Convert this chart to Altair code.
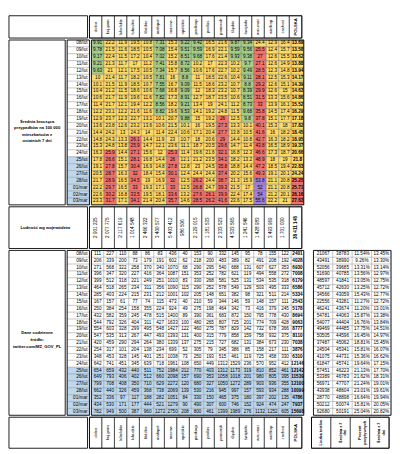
import altair as alt
import pandas as pd

regions = ["dolno", "kuj-pom", "lubelskie", "lubuskie", "łódzkie", "małopol", "mazow",
           "opolskie", "podkarp", "podlas", "pomorsk", "śląskie", "świętokr", "war-maz",
           "wielkop", "zachod", "POLSKA"]
dates = ["08/lut", "09/lut", "10/lut", "11/lut", "12/lut", "13/lut", "14/lut", "15/lut",
         "16/lut", "17/lut", "18/lut", "19/lut", "20/lut", "21/lut", "22/lut", "23/lut",
         "24/lut", "25/lut", "26/lut", "27/lut", "28/lut", "01/mar", "02/mar", "03/mar"]
highlighted_dates = ["25/lut", "26/lut", "27/lut", "28/lut", "01/mar", "02/mar", "03/mar"]

# 7-day rolling average of cases per 100 000 inhabitants (one row per date, columns = regions)
avg7_rows = [
    [9.91, 22.2, 11.9, 19.5, 10.8, 7.31, 15.3, 9.22, 9.42, 16.5, 21.6, 9.87, 9.34, 24.4, 12.9, 16.4, 13.69],
    [9.78, 21.5, 11.6, 18.5, 10.5, 7.08, 15.4, 9.51, 9.59, 16.9, 22.1, 9.59, 9.56, 25.5, 12.4, 15.7, 13.58],
    [9.17, 22.4, 11.5, 17.2, 10.4, 7.02, 15.2, 8.51, 9.68, 17.6, 21.4, 9.93, 9.38, 27, 12.6, 15.5, 13.62],
    [9.21, 21.3, 11.7, 17, 11.2, 7.41, 15.8, 8.72, 10.2, 17, 22.3, 10.2, 9.7, 27.1, 12.6, 14.9, 13.88],
    [9.63, 21, 12.1, 17.5, 10.5, 7.34, 15.7, 8.56, 10.6, 17.6, 22.7, 10.2, 9.49, 28.5, 12.3, 14.8, 13.94],
    [10, 21.4, 11.7, 18.2, 10.5, 7.81, 16, 8.8, 11, 18.5, 22.6, 10.4, 9.11, 28.1, 12.5, 15.3, 14.17],
    [10.1, 21.5, 11.9, 18.5, 10.7, 7.55, 16.7, 9.09, 11.5, 18.6, 23.2, 10.7, 8.8, 29.2, 12.6, 15.1, 14.39],
    [10.4, 21.2, 11.5, 18.6, 10.6, 7.68, 16.8, 9.09, 12, 18.3, 23.2, 10.7, 8.39, 29.9, 12.6, 15, 14.63],
    [10.6, 21.7, 11.9, 19.6, 11.6, 7.82, 17.3, 8.91, 12.7, 18.7, 23.5, 10.6, 8.51, 31.5, 13.3, 15.6, 14.86],
    [11.4, 21.7, 12.1, 19.4, 12.2, 8.56, 18.2, 9.21, 13.4, 19, 24.1, 11.2, 8.73, 33, 13.9, 16.1, 15.52],
    [12.2, 23.1, 12.2, 21.6, 11.6, 8.82, 19.6, 9.53, 14.1, 19.2, 24.8, 11.5, 9.68, 35.8, 14.5, 17.4, 16.29],
    [12.9, 23.7, 12.3, 22.7, 13.1, 10.1, 20.7, 9.88, 15, 19.2, 26, 12.5, 9.8, 37.8, 15.1, 17.7, 17.18],
    [13.6, 23.8, 12.6, 23.2, 13.6, 10.6, 21.5, 10.1, 16, 19.5, 27.3, 13.3, 10.1, 40.1, 15.3, 18, 17.82],
    [14.4, 24.2, 13, 24.3, 14, 11.4, 22.4, 10.6, 17.1, 20.4, 27.7, 13.8, 10.5, 41.6, 16, 18.2, 18.45],
    [14.8, 24.3, 13.3, 26.1, 14.4, 11.9, 23, 10.7, 18, 20.6, 29, 14.4, 10.8, 42.7, 16.3, 18.2, 18.95],
    [15.3, 24.8, 13.8, 25.9, 14.7, 12.1, 23.6, 11.1, 18.7, 20.5, 29.6, 14.7, 11.4, 43.8, 16.5, 18.9, 19.37],
    [16.3, 25.9, 14.4, 27.1, 15.6, 12, 25.3, 11.4, 19.6, 21.6, 32.1, 16.8, 12.3, 46.6, 17.3, 18.7, 20.66],
    [17.8, 26.6, 15.1, 28.1, 16.8, 14.4, 26, 12.1, 21.2, 23.5, 34.1, 18.2, 13.2, 48.9, 18, 19, 21.8],
    [19.1, 27.8, 15.7, 30.4, 16.9, 14.8, 27.8, 12.8, 23, 24.5, 35.8, 18.8, 14.4, 47.2, 18.5, 19.4, 22.83],
    [20.5, 28.7, 16.3, 32, 18.4, 15.4, 30.1, 12.4, 24.4, 24.4, 37.4, 20.2, 15.6, 49.3, 19.1, 20.1, 24.24],
    [21.7, 28.9, 16.5, 34.5, 19, 16.9, 32, 12.5, 26.2, 24.4, 38.7, 21.3, 15.9, 53.8, 21.1, 20.8, 25.25],
    [22.2, 29.7, 16.5, 33, 19.3, 17.1, 33, 12.5, 26.8, 24.7, 39.3, 21.5, 17, 52, 21.1, 20.8, 25.71],
    [22.6, 30.2, 16.8, 33.5, 19.5, 18.1, 33.6, 13.2, 27.6, 26.1, 39.9, 22.4, 17.4, 54, 21.2, 20.1, 26.16],
    [23.3, 31.7, 17.1, 34.1, 21.4, 20.4, 35.7, 14.6, 28.5, 26.2, 41.6, 23.6, 17.5, 55.6, 22.2, 21, 27.63],
]

population = [2901225, 2077775, 2117619, 1014548, 2466322, 3400577, 5403412, 986506, 2129015,
              1181533, 2333523, 4533565, 1241546, 1428983, 3493969, 1701030, 38411148]

# daily new cases (one row per date, columns = regions)
daily_rows = [
    [111, 227, 110, 88, 86, 83, 436, 40, 153, 90, 332, 145, 95, 78, 155, 122, 2401],
    [206, 339, 200, 73, 179, 191, 602, 62, 218, 200, 483, 389, 82, 491, 208, 192, 4028],
    [271, 568, 322, 258, 370, 340, 1070, 68, 290, 295, 540, 688, 131, 607, 627, 353, 6930],
    [396, 347, 320, 227, 416, 364, 1087, 151, 353, 252, 782, 621, 119, 494, 558, 272, 7008],
    [399, 512, 318, 221, 249, 251, 1010, 83, 330, 268, 581, 525, 131, 534, 535, 318, 6179],
    [464, 518, 265, 234, 311, 356, 1090, 115, 290, 252, 578, 549, 129, 503, 495, 333, 6586],
    [285, 403, 224, 215, 231, 212, 1001, 102, 205, 148, 651, 382, 98, 321, 511, 214, 5334],
    [167, 157, 61, 77, 74, 115, 473, 40, 210, 59, 344, 146, 59, 148, 157, 111, 2543],
    [250, 384, 254, 158, 355, 224, 924, 49, 275, 198, 464, 342, 73, 416, 379, 245, 5178],
    [432, 582, 359, 245, 478, 515, 1400, 89, 390, 361, 683, 872, 150, 795, 778, 430, 8694],
    [544, 792, 326, 404, 311, 427, 1633, 100, 480, 265, 807, 725, 201, 774, 709, 428, 9063],
    [554, 603, 328, 299, 495, 548, 1427, 122, 460, 275, 787, 829, 142, 732, 678, 366, 8777],
    [547, 535, 313, 267, 447, 493, 1393, 131, 400, 315, 779, 858, 159, 758, 932, 375, 8110],
    [420, 459, 290, 294, 264, 380, 1339, 137, 275, 215, 727, 682, 131, 384, 673, 230, 7038],
    [254, 317, 101, 204, 138, 234, 699, 52, 305, 79, 345, 386, 85, 158, 217, 111, 3876],
    [348, 453, 328, 145, 401, 251, 1038, 73, 250, 193, 515, 461, 119, 725, 458, 330, 6310],
    [642, 741, 451, 345, 639, 718, 1961, 108, 650, 449, 1312, 1529, 236, 570, 952, 412, 12146],
    [654, 659, 432, 440, 511, 752, 1984, 212, 770, 403, 1312, 1173, 319, 810, 852, 461, 12142],
    [649, 793, 406, 402, 512, 660, 2098, 157, 690, 353, 1058, 1018, 201, 980, 805, 395, 11539],
    [799, 708, 408, 350, 710, 629, 2272, 120, 680, 327, 1050, 1272, 289, 903, 936, 355, 12100],
    [662, 440, 326, 459, 368, 738, 2069, 139, 530, 216, 945, 997, 157, 593, 934, 288, 10099],
    [352, 336, 97, 117, 188, 282, 1051, 84, 330, 150, 465, 375, 180, 397, 202, 135, 4786],
    [434, 530, 171, 177, 444, 521, 1279, 90, 490, 307, 600, 746, 152, 924, 474, 247, 7937],
    [782, 949, 500, 387, 960, 1272, 2750, 208, 800, 461, 1399, 1989, 276, 1132, 1252, 605, 15698],
]

tests = [21067, 43491, 52056, 51690, 48597, 45712, 34566, 22556, 46241, 54781, 54077, 49469,
         50505, 37487, 24504, 41075, 61847, 57451, 53389, 56971, 43938, 28770, 50212, 62680]
tests_avg7 = [38783, 38990, 39685, 40785, 41841, 42630, 43059, 43281, 43674, 44063, 44404, 44485,
              44596, 45062, 45341, 44731, 45741, 46223, 46783, 47707, 48604, 48898, 50074, 50191]
positive_pct = [11.54, 9.26, 13.31, 13.56, 13.05, 13.25, 15.43, 11.27, 11.20, 15.87, 16.76, 17.75,
                16.45, 18.81, 15.81, 15.36, 19.64, 21.13, 21.62, 21.24, 23.01, 16.64, 15.81, 25.04]
positive_pct_avg7 = [13.45, 13.30, 13.14, 12.97, 12.75, 12.72, 12.77, 12.72, 13.01, 13.38, 13.84, 14.51,
                     14.97, 15.45, 16.07, 16.62, 17.15, 17.70, 18.31, 19.01, 19.61, 19.94, 20.05, 20.82]

small_cols = ["tests", "tests7", "pct", "pct7"]
small_titles = ["Liczba testów", "Średnia z 7\ndni", "Procent\npozytywnych", "Średnia z 7\ndni"]

label_avg = ["Średnia krocząca", "przypadków na 100 000", "mieszkańców z", "ostatnich 7 dni"]
label_pop = "Ludność wg województw"
label_daily = ["Dane codzienne", "", "źródło:", "twitter.com/MZ_GOV_PL"]

# ---------------- styling / layout ----------------
FONT = "Liberation Sans"
NUM = 4.8
LAB = 4.3
GREEN, YELLOW, RED, PURPLE = "#A4CD88", "#FFD966", "#F4716C", "#A47FDA"
BLUE = "#BDD7EE"
GRID = "#8a8a8a"

W_LAB, W_DATE, W_MAIN, W_SMALL, GAP = 58, 23, 219, 80, 8
H_HEAD, H_ROWS, H_POP, H_FOOT = 23, 170, 43, 32

one = pd.DataFrame({"k": [0]})


def frame(w, h, sw=0.9):
    return alt.Chart(one).mark_rect(fill="transparent", stroke="black", strokeWidth=sw).encode(
        x=alt.value(0), x2=alt.value(w), y=alt.value(0), y2=alt.value(h))


X_REG = alt.X("region:N", axis=None,
              scale=alt.Scale(domain=regions, paddingInner=0, paddingOuter=0))
Y_DATE = alt.Y("date:N", axis=None,
               scale=alt.Scale(domain=dates, paddingInner=0, paddingOuter=0))
X_SMALL = alt.X("col:N", axis=None,
                scale=alt.Scale(domain=small_cols, paddingInner=0, paddingOuter=0))

is_blue = alt.FieldOneOfPredicate(field="date", oneOf=highlighted_dates)
not_total = alt.datum.region != "POLSKA"
is_total = alt.datum.region == "POLSKA"


def fmt(v):
    return f"{v:g}"


# ---------------- heatmap section ----------------
heat_df = pd.DataFrame([
    {"date": d, "region": r, "value": avg7_rows[i][j], "label": fmt(avg7_rows[i][j])}
    for i, d in enumerate(dates) for j, r in enumerate(regions)
])

heat_rect = alt.Chart(heat_df).mark_rect(stroke="#5f5f5f", strokeWidth=0.35).encode(
    x=X_REG, y=Y_DATE,
    color=alt.Color("value:Q", legend=None,
                    scale=alt.Scale(type="threshold", domain=[10, 25, 50],
                                    range=[GREEN, YELLOW, RED, PURPLE])))
heat_txt = alt.Chart(heat_df).transform_filter(not_total).mark_text(
    font=FONT, fontSize=NUM).encode(x=X_REG, y=Y_DATE, text="label:N")
heat_txt_b = alt.Chart(heat_df).transform_filter(is_total).mark_text(
    font=FONT, fontSize=NUM, fontWeight="bold").encode(x=X_REG, y=Y_DATE, text="label:N")
heat = alt.layer(heat_rect, heat_txt, heat_txt_b, frame(W_MAIN, H_ROWS)).properties(
    width=W_MAIN, height=H_ROWS)


def date_column():
    df = pd.DataFrame({"date": dates})
    rect = alt.Chart(df).mark_rect(stroke=GRID, strokeWidth=0.35).encode(
        x=alt.value(0), x2=alt.value(W_DATE), y=Y_DATE,
        color=alt.condition(is_blue, alt.value(BLUE), alt.value("white")))
    txt = alt.Chart(df).mark_text(font=FONT, fontSize=NUM, align="right").encode(
        x=alt.value(W_DATE - 2), y=Y_DATE, text="date:N")
    return alt.layer(rect, txt, frame(W_DATE, H_ROWS)).properties(width=W_DATE, height=H_ROWS)


def label_column(lines, lh, size):
    txt = alt.Chart(one).mark_text(text=lines, font=FONT, fontSize=size, fontWeight="bold",
                                   lineHeight=lh, align="center", baseline="middle").encode(
        x=alt.value(W_LAB / 2), y=alt.value(H_ROWS / 2))
    return alt.layer(txt, frame(W_LAB, H_ROWS)).properties(width=W_LAB, height=H_ROWS)


def region_band(h):
    df = pd.DataFrame({"region": regions})
    rect = alt.Chart(df).mark_rect(fill="white", stroke="black", strokeWidth=0.6).encode(
        x=X_REG, y=alt.value(0), y2=alt.value(h))
    t1 = alt.Chart(df).transform_filter(not_total).mark_text(
        angle=270, font=FONT, fontSize=LAB).encode(x=X_REG, y=alt.value(h / 2), text="region:N")
    t2 = alt.Chart(df).transform_filter(is_total).mark_text(
        angle=270, font=FONT, fontSize=LAB, fontWeight="bold").encode(
        x=X_REG, y=alt.value(h / 2), text="region:N")
    return alt.layer(rect, t1, t2, frame(W_MAIN, h)).properties(width=W_MAIN, height=h)


def corner(w, h):
    return frame(w, h).properties(width=w, height=h)


# ---------------- population section ----------------
pop_df = pd.DataFrame({"region": regions,
                       "label": [f"{p:,}".replace(",", " ") for p in population]})
pop_rect = alt.Chart(pop_df).mark_rect(fill="white", stroke="black", strokeWidth=0.6).encode(
    x=X_REG, y=alt.value(0), y2=alt.value(H_POP))
pop_t1 = alt.Chart(pop_df).transform_filter(not_total).mark_text(
    angle=270, font=FONT, fontSize=NUM).encode(x=X_REG, y=alt.value(H_POP / 2), text="label:N")
pop_t2 = alt.Chart(pop_df).transform_filter(is_total).mark_text(
    angle=270, font=FONT, fontSize=NUM, fontWeight="bold").encode(
    x=X_REG, y=alt.value(H_POP / 2), text="label:N")
pop_vals = alt.layer(pop_rect, pop_t1, pop_t2, frame(W_MAIN, H_POP)).properties(
    width=W_MAIN, height=H_POP)
pop_left = alt.layer(
    alt.Chart(one).mark_text(text=label_pop, font=FONT, fontSize=LAB, fontWeight="bold").encode(
        x=alt.value((W_LAB + W_DATE) / 2 - 3), y=alt.value(H_POP / 2)),
    frame(W_LAB + W_DATE, H_POP)).properties(width=W_LAB + W_DATE, height=H_POP)

# ---------------- daily section ----------------
daily_df = pd.DataFrame([
    {"date": d, "region": r, "label": str(daily_rows[i][j])}
    for i, d in enumerate(dates) for j, r in enumerate(regions)
])
daily_rect = alt.Chart(daily_df).mark_rect(stroke=GRID, strokeWidth=0.35).encode(
    x=X_REG, y=Y_DATE, color=alt.condition(is_blue, alt.value(BLUE), alt.value("white")))
daily_t1 = alt.Chart(daily_df).transform_filter(not_total).mark_text(
    font=FONT, fontSize=NUM).encode(x=X_REG, y=Y_DATE, text="label:N")
daily_t2 = alt.Chart(daily_df).transform_filter(is_total).mark_text(
    font=FONT, fontSize=NUM, fontWeight="bold").encode(x=X_REG, y=Y_DATE, text="label:N")
daily = alt.layer(daily_rect, daily_t1, daily_t2, frame(W_MAIN, H_ROWS)).properties(
    width=W_MAIN, height=H_ROWS)

small_df = pd.DataFrame(
    [{"date": d, "col": "tests", "label": str(tests[i])} for i, d in enumerate(dates)]
    + [{"date": d, "col": "tests7", "label": str(tests_avg7[i])} for i, d in enumerate(dates)]
    + [{"date": d, "col": "pct", "label": f"{positive_pct[i]:.2f}%"} for i, d in enumerate(dates)]
    + [{"date": d, "col": "pct7", "label": f"{positive_pct_avg7[i]:.2f}%"} for i, d in enumerate(dates)]
)
small_rect = alt.Chart(small_df).mark_rect(fill="white", stroke=GRID, strokeWidth=0.35).encode(
    x=X_SMALL, y=Y_DATE)
small_txt = alt.Chart(small_df).mark_text(font=FONT, fontSize=NUM).encode(
    x=X_SMALL, y=Y_DATE, text="label:N")
small = alt.layer(small_rect, small_txt, frame(W_SMALL, H_ROWS)).properties(
    width=W_SMALL, height=H_ROWS)

sf_df = pd.DataFrame({"col": small_cols, "title": small_titles})
sf_rect = alt.Chart(sf_df).mark_rect(fill="white", stroke="black", strokeWidth=0.6).encode(
    x=X_SMALL, y=alt.value(0), y2=alt.value(H_FOOT))
sf_txt = alt.Chart(sf_df).mark_text(angle=270, font=FONT, fontSize=4.0, fontWeight="bold",
                                    lineBreak="\n", lineHeight=5).encode(
    x=X_SMALL, y=alt.value(H_FOOT / 2), text="title:N")
small_footer = alt.layer(sf_rect, sf_txt, frame(W_SMALL, H_FOOT)).properties(
    width=W_SMALL, height=H_FOOT)

# ---------------- assemble ----------------
row1 = alt.hconcat(corner(W_LAB + W_DATE, H_HEAD), region_band(H_HEAD), spacing=0)
row2 = alt.hconcat(label_column(label_avg, 6.3, LAB), date_column(), heat, spacing=0)
row3 = alt.hconcat(pop_left, pop_vals, spacing=0)
row4 = alt.hconcat(
    alt.hconcat(label_column(label_daily, 7.3, LAB), date_column(), daily, spacing=0),
    small, spacing=GAP)
row5 = alt.hconcat(
    alt.hconcat(corner(W_LAB + W_DATE, H_FOOT), region_band(H_FOOT), spacing=0),
    small_footer, spacing=GAP)

chart = alt.vconcat(row1, row2, row3, row4, row5, spacing=0).resolve_scale(
    x="independent", y="independent", color="independent"
).properties(padding=0).configure_view(strokeWidth=0)

chart.save("out.html", embed_options={"renderer": "svg", "actions": False})
